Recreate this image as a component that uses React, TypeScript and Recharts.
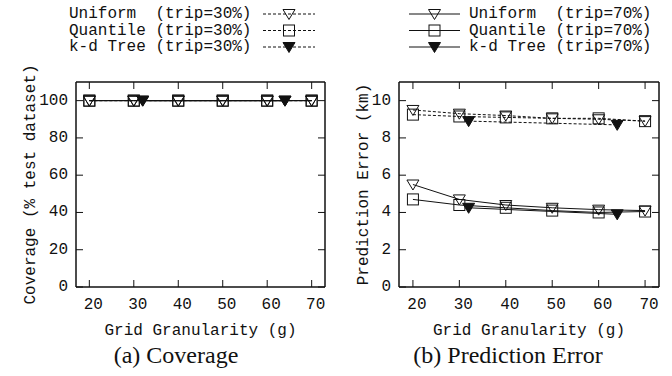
import { LineChart, Line, XAxis, YAxis, Legend, Label } from 'recharts';

const grids = [20, 30, 40, 50, 60, 70];
const kdGrids = [32, 64];
const xTicks = [20, 30, 40, 50, 60, 70];
const coverageTicks = [0, 20, 40, 60, 80, 100];
const errorTicks = [0, 2, 4, 6, 8, 10];

const uniform30Coverage = [100, 100, 100, 100, 100, 100];
const quantile30Coverage = [100, 100, 100, 100, 100, 100];
const kd30Coverage = [100, 100];
const uniform70Coverage = [100, 100, 100, 100, 100, 100];
const quantile70Coverage = [100, 100, 100, 100, 100, 100];
const kd70Coverage = [100, 100];

const uniform30Error = [9.5, 9.3, 9.2, 9.05, 9.0, 8.9];
const quantile30Error = [9.25, 9.15, 9.1, 9.05, 9.05, 8.9];
const kd30Error = [8.9, 8.7];
const uniform70Error = [5.5, 4.7, 4.4, 4.25, 4.15, 4.1];
const quantile70Error = [4.7, 4.4, 4.25, 4.1, 4.0, 4.05];
const kd70Error = [4.25, 3.9];

const MONO = '"Liberation Mono", "DejaVu Sans Mono", monospace';
const SERIF = '"Liberation Serif", "DejaVu Serif", serif';
const INK = '#111';
const TICK_LEN = 7;
const GAP = 10;

type Shape = 'open' | 'square' | 'filled';

interface SeriesDef {
  name: string;
  shape: Shape;
  dashed: boolean;
  xs: number[];
  ys: number[];
}

const toPoints = (xs: number[], ys: number[]) => xs.map((g, i) => ({ g, v: ys[i] }));

const coverageSeries: SeriesDef[] = [
  { name: 'Uniform  (trip=30%)', shape: 'open', dashed: true, xs: grids, ys: uniform30Coverage },
  { name: 'Quantile (trip=30%)', shape: 'square', dashed: true, xs: grids, ys: quantile30Coverage },
  { name: 'k-d Tree (trip=30%)', shape: 'filled', dashed: true, xs: kdGrids, ys: kd30Coverage },
  { name: 'Uniform  (trip=70%)', shape: 'open', dashed: false, xs: grids, ys: uniform70Coverage },
  { name: 'Quantile (trip=70%)', shape: 'square', dashed: false, xs: grids, ys: quantile70Coverage },
  { name: 'k-d Tree (trip=70%)', shape: 'filled', dashed: false, xs: kdGrids, ys: kd70Coverage },
];

const errorSeries: SeriesDef[] = [
  { name: 'Uniform  (trip=30%)', shape: 'open', dashed: true, xs: grids, ys: uniform30Error },
  { name: 'Quantile (trip=30%)', shape: 'square', dashed: true, xs: grids, ys: quantile30Error },
  { name: 'k-d Tree (trip=30%)', shape: 'filled', dashed: true, xs: kdGrids, ys: kd30Error },
  { name: 'Uniform  (trip=70%)', shape: 'open', dashed: false, xs: grids, ys: uniform70Error },
  { name: 'Quantile (trip=70%)', shape: 'square', dashed: false, xs: grids, ys: quantile70Error },
  { name: 'k-d Tree (trip=70%)', shape: 'filled', dashed: false, xs: kdGrids, ys: kd70Error },
];

function Marker({ shape, cx, cy }: { shape: Shape; cx: number; cy: number }) {
  if (shape === 'square') {
    return <rect x={cx - 5.5} y={cy - 5.5} width={11} height={11} fill="none" stroke={INK} strokeWidth={1} />;
  }
  const pts = `${cx - 6},${cy - 4.5} ${cx + 6},${cy - 4.5} ${cx},${cy + 5.5}`;
  return <polygon points={pts} fill={shape === 'filled' ? INK : 'none'} stroke={INK} strokeWidth={1} />;
}

// gnuplot style inward ticks: tickSize is 0 so the axis position is recovered from tickMargin
const BottomTick = ({ x, y, payload }: any) => {
  const axisY = y - GAP;
  return (
    <g>
      <line x1={x} x2={x} y1={axisY} y2={axisY - TICK_LEN} stroke={INK} />
      <text x={x + 4} y={axisY + 22} textAnchor="middle" fontFamily={MONO} fontSize={16} fill={INK}>
        {payload.value}
      </text>
    </g>
  );
};

const TopTick = ({ x, y }: any) => {
  const axisY = y + GAP;
  return <line x1={x} x2={x} y1={axisY} y2={axisY + TICK_LEN} stroke={INK} />;
};

const LeftTick = ({ x, y, payload }: any) => {
  const axisX = x + GAP;
  return (
    <g>
      <line x1={axisX} x2={axisX + TICK_LEN} y1={y} y2={y} stroke={INK} />
      <text x={axisX - 8} y={y} textAnchor="end" dominantBaseline="central" fontFamily={MONO} fontSize={16} fill={INK}>
        {payload.value}
      </text>
    </g>
  );
};

const RightTick = ({ x, y }: any) => {
  const axisX = x - GAP;
  return <line x1={axisX} x2={axisX - TICK_LEN} y1={y} y2={y} stroke={INK} />;
};

function LegendRows({ items, textX, lineX1, lineX2 }: { items: SeriesDef[]; textX: number; lineX1: number; lineX2: number }) {
  const rows = [14, 30.5, 47];
  const mx = (lineX1 + lineX2) / 2;
  return (
    <svg width={336} height={60} style={{ display: 'block' }}>
      {items.map((s, i) => (
        <g key={s.name}>
          <text
            x={textX}
            y={rows[i]}
            dominantBaseline="central"
            fontFamily={MONO}
            fontSize={16}
            fill={INK}
            style={{ whiteSpace: 'pre' }}
          >
            {s.name}
          </text>
          <line
            x1={lineX1}
            x2={lineX2}
            y1={rows[i]}
            y2={rows[i]}
            stroke={INK}
            strokeDasharray={s.dashed ? '3 2' : undefined}
          />
          <Marker shape={s.shape} cx={mx} cy={rows[i]} />
        </g>
      ))}
    </svg>
  );
}

interface PanelProps {
  series: SeriesDef[];
  legendItems: SeriesDef[];
  legendText: number;
  legendLine: [number, number];
  yDomain: [number, number];
  yTicks: number[];
  yTitle: string;
  yTitleOffset: number;
  margin: { top: number; right: number; bottom: number; left: number };
}

function Panel({ series, legendItems, legendText, legendLine, yDomain, yTicks, yTitle, yTitleOffset, margin }: PanelProps) {
  return (
    <LineChart width={336} height={376} margin={margin}>
      <XAxis
        type="number"
        dataKey="g"
        domain={[17, 73]}
        ticks={xTicks}
        interval={0}
        allowDataOverflow
        height={1}
        tickSize={0}
        tickMargin={GAP}
        tick={<BottomTick />}
        axisLine={{ stroke: INK, strokeWidth: 1.5 }}
      >
        <Label
          content={({ viewBox }: any) => (
            <text
              x={viewBox.x + viewBox.width / 2}
              y={viewBox.y + 48}
              textAnchor="middle"
              fontFamily={MONO}
              fontSize={16}
              fill={INK}
            >
              Grid Granularity (g)
            </text>
          )}
        />
      </XAxis>
      <XAxis
        xAxisId="top"
        orientation="top"
        type="number"
        dataKey="g"
        domain={[17, 73]}
        ticks={xTicks}
        interval={0}
        allowDataOverflow
        height={1}
        tickSize={0}
        tickMargin={GAP}
        tick={<TopTick />}
        axisLine={{ stroke: INK, strokeWidth: 1.5 }}
      />
      <YAxis
        type="number"
        domain={yDomain}
        ticks={yTicks}
        interval={0}
        allowDataOverflow
        width={1}
        tickSize={0}
        tickMargin={GAP}
        tick={<LeftTick />}
        axisLine={{ stroke: INK, strokeWidth: 1.5 }}
      >
        <Label
          content={({ viewBox }: any) => {
            const cx = viewBox.x + viewBox.width - yTitleOffset;
            const cy = viewBox.y + viewBox.height / 2;
            return (
              <text
                x={cx}
                y={cy}
                transform={`rotate(-90, ${cx}, ${cy})`}
                textAnchor="middle"
                dominantBaseline="central"
                fontFamily={MONO}
                fontSize={16}
                fill={INK}
              >
                {yTitle}
              </text>
            );
          }}
        />
      </YAxis>
      <YAxis
        yAxisId="right"
        orientation="right"
        type="number"
        domain={yDomain}
        ticks={yTicks}
        interval={0}
        allowDataOverflow
        width={1}
        tickSize={0}
        tickMargin={GAP}
        tick={<RightTick />}
        axisLine={{ stroke: INK, strokeWidth: 1.5 }}
      />
      <Legend
        verticalAlign="middle"
        layout="horizontal"
        wrapperStyle={{ top: 0, left: 0, width: 336, height: 60 }}
        content={() => (
          <LegendRows items={legendItems} textX={legendText} lineX1={legendLine[0]} lineX2={legendLine[1]} />
        )}
      />
      {series.map((s) => (
        <Line
          key={s.name}
          name={s.name}
          data={toPoints(s.xs, s.ys)}
          dataKey="v"
          stroke={INK}
          strokeWidth={1}
          strokeDasharray={s.dashed ? '3 2' : undefined}
          dot={(p: any) => <Marker key={`${s.name}-${p.index}`} shape={s.shape} cx={p.cx} cy={p.cy} />}
          activeDot={false}
          isAnimationActive={false}
        />
      ))}
    </LineChart>
  );
}

export default function App() {
  return (
    <div style={{ position: 'relative', width: 672, height: 376, background: '#fff' }}>
      <style>{'body{margin:0}'}</style>
      <div style={{ position: 'absolute', left: 0, top: 0 }}>
        <Panel
          series={coverageSeries}
          legendItems={coverageSeries.slice(0, 3)}
          legendText={69}
          legendLine={[263, 315]}
          yDomain={[0, 110]}
          yTicks={coverageTicks}
          yTitle="Coverage (% test dataset)"
          yTitleOffset={45}
          margin={{ top: 81, right: 10, bottom: 88, left: 75 }}
        />
      </div>
      <div style={{ position: 'absolute', left: 336, top: 0 }}>
        <Panel
          series={errorSeries}
          legendItems={errorSeries.slice(3)}
          legendText={133}
          legendLine={[73, 124]}
          yDomain={[0, 11]}
          yTicks={errorTicks}
          yTitle="Prediction Error (km)"
          yTitleOffset={35}
          margin={{ top: 81, right: 12, bottom: 88, left: 62 }}
        />
      </div>
      <svg width={672} height={376} style={{ position: 'absolute', left: 0, top: 0, pointerEvents: 'none' }}>
        <text x={176} y={363} textAnchor="middle" fontFamily={SERIF} fontSize={24} fill={INK}>
          (a) Coverage
        </text>
        <text x={508} y={363} textAnchor="middle" fontFamily={SERIF} fontSize={24} fill={INK}>
          (b) Prediction Error
        </text>
      </svg>
    </div>
  );
}
